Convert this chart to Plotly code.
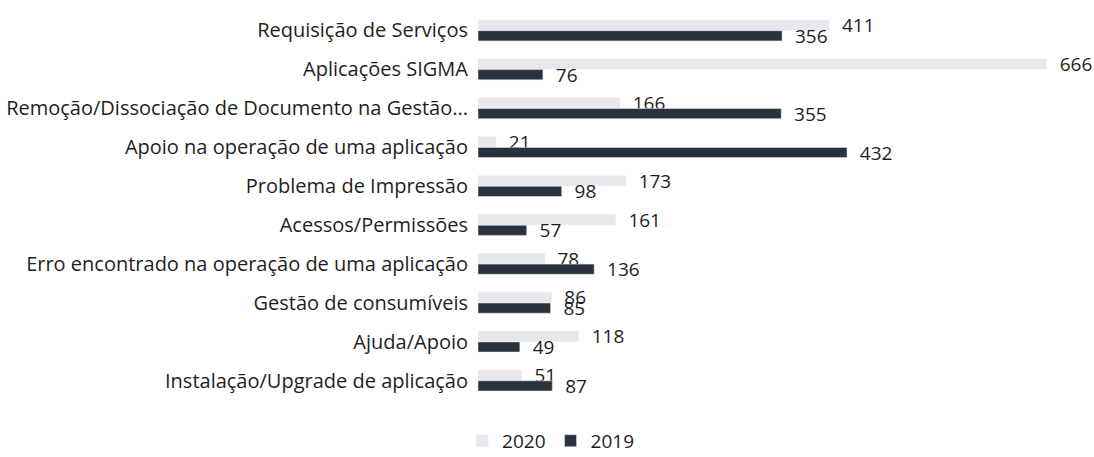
import plotly.graph_objects as go

categories = [
    "Requisição de Serviços",
    "Aplicações SIGMA",
    "Remoção/Dissociação de Documento na Gestão...",
    "Apoio na operação de uma aplicação",
    "Problema de Impressão",
    "Acessos/Permissões",
    "Erro encontrado na operação de uma aplicação",
    "Gestão de consumíveis",
    "Ajuda/Apoio",
    "Instalação/Upgrade de aplicação",
]
values_2020 = [411, 666, 166, 21, 173, 161, 78, 86, 118, 51]
values_2019 = [356, 76, 355, 432, 98, 57, 136, 85, 49, 87]

FONT = "Open Sans"
TXT = "#1e1e1e"
fig = go.Figure()
fig.add_trace(go.Bar(
    y=categories, x=values_2020, name="2020", orientation="h",
    marker=dict(color="#e7e8ed"),
    text=values_2020, texttemplate="  %{text}", textposition="outside",
    constraintext="none",
    textfont=dict(size=19, color=TXT, family=FONT),
    cliponaxis=False,
))
fig.add_trace(go.Bar(
    y=categories, x=values_2019, name="2019", orientation="h",
    marker=dict(color="#2a323d"),
    text=values_2019, texttemplate="  %{text}", textposition="outside",
    constraintext="none",
    textfont=dict(size=19, color=TXT, family=FONT),
    cliponaxis=False,
))

fig.update_layout(
    width=1094, height=457,
    barmode="group", bargap=0.45, bargroupgap=0.05,
    margin=dict(l=478, r=1, t=11, b=57, autoexpand=False),
    paper_bgcolor="white", plot_bgcolor="white",
    font=dict(family=FONT, size=19, color=TXT),
    xaxis=dict(range=[0, 720], visible=False),
    yaxis=dict(autorange="reversed", showgrid=False, showline=False,
               ticks="", ticklabelstandoff=9,
               tickfont=dict(size=20, family=FONT, color=TXT)),
    legend=dict(orientation="h", x=0.118, xanchor="center", y=-0.105, yanchor="middle",
                font=dict(size=19, family=FONT), traceorder="normal",
                itemwidth=30),
)
fig.write_html("out.html", config={"displayModeBar": False},
               post_script="document.body.style.margin='0';")
